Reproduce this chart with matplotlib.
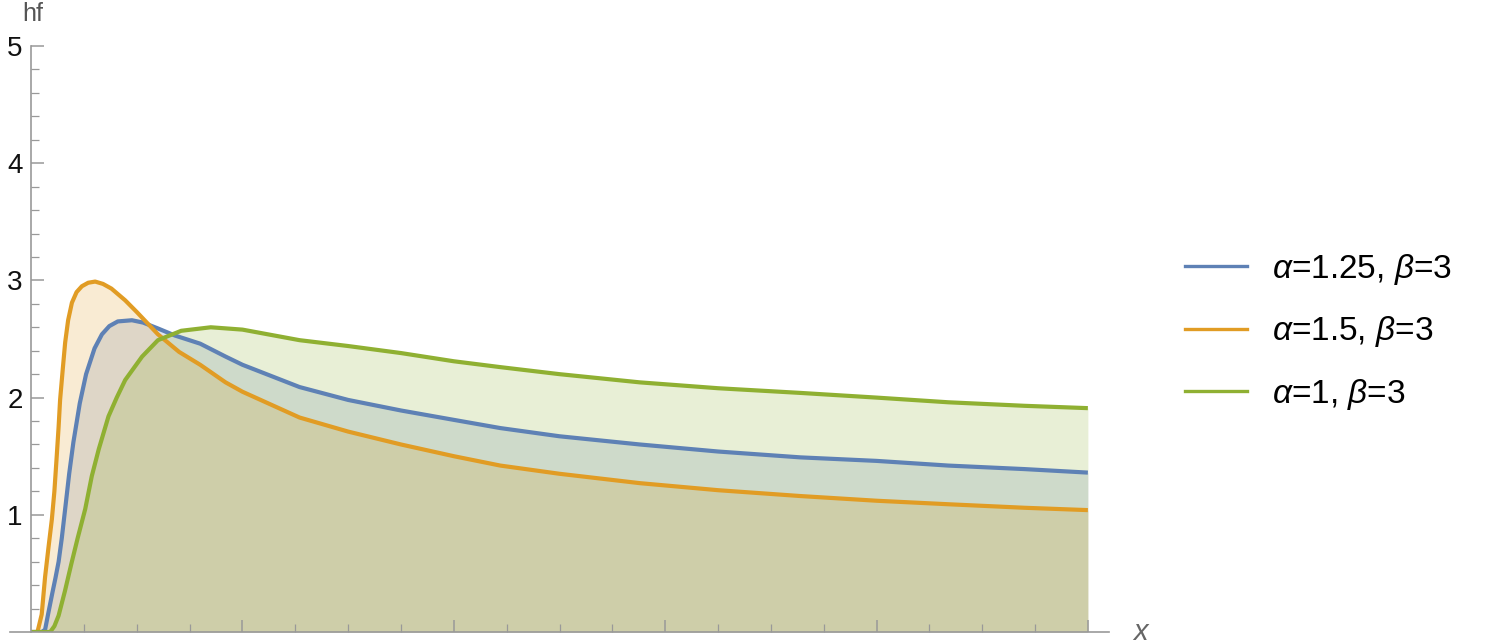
import matplotlib.pyplot as plt
from matplotlib.lines import Line2D

plt.rcParams['font.family'] = ['Liberation Sans', 'DejaVu Sans']
plt.rcParams['mathtext.fontset'] = 'custom'
plt.rcParams['mathtext.it'] = 'Liberation Sans:italic'
plt.rcParams['mathtext.rm'] = 'Liberation Sans'

# DANE
x_a15 = [0, 0.03, 0.05, 0.066, 0.082, 0.098, 0.11, 0.12, 0.13, 0.137, 0.15, 0.161, 0.175, 0.193,
         0.215, 0.24, 0.27, 0.303, 0.34, 0.38, 0.445, 0.5, 0.6, 0.7, 0.8, 0.92, 1.0, 1.27, 1.5,
         1.75, 2.0, 2.22, 2.5, 2.88, 3.25, 3.64, 4.0, 4.34, 4.7, 5.0]
y_a15 = [0, 0, 0.15, 0.47, 0.72, 0.96, 1.2, 1.47, 1.75, 1.98, 2.25, 2.47, 2.66, 2.81,
         2.9, 2.95, 2.98, 2.99, 2.97, 2.93, 2.83, 2.73, 2.54, 2.39, 2.28, 2.13, 2.05, 1.83, 1.71,
         1.60, 1.50, 1.42, 1.35, 1.27, 1.21, 1.16, 1.12, 1.09, 1.06, 1.04]

x_a125 = [0, 0.05, 0.066, 0.08, 0.1, 0.115, 0.13, 0.145, 0.161, 0.18, 0.2, 0.23, 0.26, 0.3,
          0.335, 0.37, 0.41, 0.477, 0.53, 0.6, 0.68, 0.8, 0.92, 1.0, 1.27, 1.5, 1.75, 2.0,
          2.22, 2.5, 2.88, 3.25, 3.64, 4.0, 4.34, 4.7, 5.0]
y_a125 = [0, 0, 0.02, 0.15, 0.33, 0.46, 0.6, 0.8, 1.05, 1.35, 1.62, 1.95, 2.2, 2.42,
          2.54, 2.61, 2.65, 2.66, 2.64, 2.59, 2.53, 2.46, 2.35, 2.28, 2.09, 1.98, 1.89, 1.81,
          1.74, 1.67, 1.60, 1.54, 1.49, 1.46, 1.42, 1.39, 1.36]

x_a1 = [0, 0.09, 0.11, 0.13, 0.16, 0.19, 0.22, 0.256, 0.287, 0.32, 0.366, 0.405, 0.445, 0.525,
        0.6, 0.71, 0.85, 1.0, 1.27, 1.5, 1.75, 2.0, 2.22, 2.5, 2.88, 3.25, 3.64, 4.0, 4.34,
        4.7, 5.0]
y_a1 = [0, 0, 0.05, 0.14, 0.35, 0.58, 0.8, 1.05, 1.33, 1.56, 1.84, 2.0, 2.15, 2.35,
        2.49, 2.57, 2.60, 2.58, 2.49, 2.44, 2.38, 2.31, 2.26, 2.20, 2.13, 2.08, 2.04, 2.00, 1.96,
        1.93, 1.91]

labels = [r'$\alpha$=1.25, $\beta$=3', r'$\alpha$=1.5, $\beta$=3', r'$\alpha$=1, $\beta$=3']
y_ticks = [1, 2, 3, 4, 5]
x_ticks = [1, 2, 3, 4, 5]

# kolory
c_blue = '#5E81B5'
c_orange = '#E19C24'
c_green = '#8FB032'
c_axis = '#999999'

W, H = 1498, 644
fig = plt.figure(figsize=(W / 100, H / 100), dpi=100)
ax = fig.add_axes([10 / W, 12 / H, (1109 - 10) / W, (632 - 46) / H])

serie = [(x_a125, y_a125, c_blue), (x_a15, y_a15, c_orange), (x_a1, y_a1, c_green)]
for xs, ys, c in serie:
    ax.fill_between(xs, 0, ys, color=c, alpha=0.2, linewidth=0)
for xs, ys, c in serie:
    ax.plot(xs, ys, color=c, lw=3.0, solid_joinstyle='round', solid_capstyle='butt')

ax.set_xlim(-0.1, 5.1)
ax.set_ylim(0, 5)

for s in ['top', 'right']:
    ax.spines[s].set_visible(False)
ax.spines['left'].set_position(('data', 0))
ax.spines['left'].set_bounds(0, 5)
ax.spines['left'].set_color(c_axis)
ax.spines['bottom'].set_color(c_axis)
ax.spines['left'].set_linewidth(1.2)
ax.spines['bottom'].set_linewidth(1.2)

ax.set_xticks(x_ticks)
ax.set_xticks([i * 0.25 for i in range(1, 21) if i % 4 != 0], minor=True)
ax.set_yticks(y_ticks)
ax.set_yticks([i * 0.2 for i in range(1, 25) if i % 5 != 0], minor=True)
ax.tick_params(axis='both', which='major', direction='in', length=9, width=1.1, color=c_axis)
ax.tick_params(axis='both', which='minor', direction='in', length=5.5, width=0.9, color=c_axis)
ax.tick_params(axis='x', which='both', labelbottom=False)
ax.tick_params(axis='y', which='major', labelsize=20, pad=6, labelcolor='#111111')
ax.set_facecolor('none')

fig.text(33 / W, 1 - 14 / H, 'hf', fontsize=18, color='#555555', ha='center', va='center')
fig.text(1140 / W, 1 - 632 / H, 'x', fontsize=21, color='#666666', style='italic',
         ha='center', va='center')

uchwyty = [Line2D([], [], color=c, lw=2.4) for c in [c_blue, c_orange, c_green]]
fig.legend(uchwyty, labels, loc='center left', bbox_to_anchor=(1185 / W, 1 - 332 / H),
           frameon=False, fontsize=24, handlelength=1.86, handletextpad=0.75,
           labelspacing=0.82, borderpad=0, borderaxespad=0)

fig.savefig('out.png', dpi=100)
